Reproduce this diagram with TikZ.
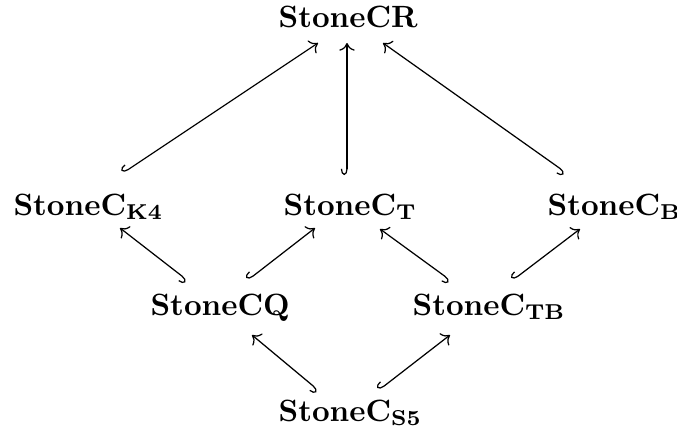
\documentclass[tikz,border=0pt]{standalone}
\usetikzlibrary{arrows.meta,calc}
\begin{document}
\begin{tikzpicture}[x=0.325pt,y=-0.325pt,
  obj/.style={anchor=base west,inner sep=0pt},
  inc/.style={line width=0.4pt,{Hooks[right,length=2pt,width=4pt]}-{To[length=2.5pt,width=5pt]}}]
\useasboundingbox (0,0) rectangle (677,436);
% objects
\node[obj] (cr) at (278,27)  {$\mathbf{StoneCR}$};
\node[obj] (k4) at (13,215)  {$\mathbf{StoneC_{K4}}$};
\node[obj] (t)  at (283,215) {$\mathbf{StoneC_{T}}$};
\node[obj] (b)  at (547,215) {$\mathbf{StoneC_{B}}$};
\node[obj] (cq) at (150,315) {$\mathbf{StoneCQ}$};
\node[obj] (tb) at (412,315) {$\mathbf{StoneC_{TB}}$};
\node[obj] (s5) at (278,421) {$\mathbf{StoneC_{S5}}$};
% inclusions
\draw[inc] ($(k4.base west)+(110,-42)$) -- ($(cr.base west)+(40,16)$);
\draw[inc] ($(t.base west)+(64,-40)$)   -- ($(cr.base west)+(69,16)$);
\draw[inc] ($(b.base west)+(18,-43)$)   -- ($(cr.base west)+(105,16)$);
\draw[inc] ($(cq.base west)+(37,-35)$)  -- ($(k4.base west)+(107,13)$);
\draw[inc] ($(cq.base west)+(98,-35)$)  -- ($(t.base west)+(32,13)$);
\draw[inc] ($(tb.base west)+(38,-35)$)  -- ($(t.base west)+(97,14)$);
\draw[inc] ($(tb.base west)+(101,-35)$) -- ($(b.base west)+(33,14)$);
\draw[inc] ($(s5.base west)+(40,-31)$)  -- ($(cq.base west)+(102,20)$);
\draw[inc] ($(s5.base west)+(101,-31)$) -- ($(tb.base west)+(38,20)$);
\end{tikzpicture}
\end{document}
